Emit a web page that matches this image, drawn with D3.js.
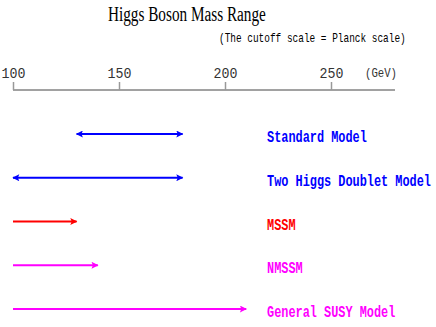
<!DOCTYPE html>
<html>
<head>
<meta charset="utf-8">
<script src="https://cdn.jsdelivr.net/npm/d3@7"></script>
<style>
  body { margin: 0; background: #fff; }
</style>
</head>
<body>
<svg id="chart" width="436" height="327"></svg>
<script>
const models = ["Standard Model", "Two Higgs Doublet Model", "MSSM", "NMSSM", "General SUSY Model"];
const lowMass = [130, 100, 100, 100, 100];
const highMass = [180, 180, 130, 140, 210];
const leftArrow = [true, true, false, false, false];
const colors = ["#0000ff", "#0000ff", "#ff0000", "#ff00ff", "#ff00ff"];
const tickValues = [100, 150, 200, 250];

const svg = d3.select("#chart");

const x = d3.scaleLinear().domain([100, 250]).range([13, 331]);
const y = d3.scalePoint().domain(models).range([134, 309]);

// original fonts are narrow: squeeze text horizontally to a target width
function squeezed(tx, ty, str, width, family, size, color, weight) {
  const g = svg.append("g");
  const t = g.append("text")
    .style("font-family", family)
    .style("font-size", size + "px")
    .style("font-weight", weight || "normal")
    .attr("fill", color || "#000")
    .text(str);
  const sx = width / t.node().getComputedTextLength();
  g.attr("transform", `translate(${tx},${ty}) scale(${sx},1)`);
}

const serif = "'Liberation Serif', serif";
const mono = "'Liberation Mono', monospace";

squeezed(108, 21, "Higgs Boson Mass Range", 158, serif, 20);
squeezed(219, 42, "(The cutoff scale = Planck scale)", 187, mono, 12.5);

// axis
const axis = svg.append("g")
  .attr("transform", "translate(0,90)")
  .call(d3.axisTop(x).tickValues(tickValues).tickSize(8).tickSizeOuter(0).tickPadding(4));
axis.select(".domain").attr("d", `M${x(100)},0H395`).attr("stroke", "#444");
axis.selectAll(".tick line").attr("stroke", "#999").attr("stroke-width", 1.5);
axis.selectAll(".tick text")
  .style("font-family", mono)
  .style("font-size", "14px")
  .attr("fill", "#333")
  .attr("transform", "scale(0.95,1)");

squeezed(365, 77, "(GeV)", 32, mono, 12.5, "#333");

// arrowheads
const defs = svg.append("defs");
colors.forEach((c, i) => {
  defs.append("marker")
    .attr("id", "head" + i)
    .attr("viewBox", "0 0 10 10")
    .attr("refX", 9).attr("refY", 5)
    .attr("markerWidth", 4.5).attr("markerHeight", 3.5)
    .attr("markerUnits", "strokeWidth")
    .attr("orient", "auto-start-reverse")
    .append("path")
    .attr("d", "M0,0L10,5L0,10L2,5Z")
    .attr("fill", c);
});

models.forEach((m, i) => {
  svg.append("line")
    .attr("x1", x(lowMass[i])).attr("x2", x(highMass[i]))
    .attr("y1", y(m)).attr("y2", y(m))
    .attr("stroke", colors[i])
    .attr("stroke-width", 2)
    .attr("marker-end", `url(#head${i})`)
    .attr("marker-start", leftArrow[i] ? `url(#head${i})` : null);

  squeezed(267, y(m) + 8, m, m.length * 7.14, mono, 16, colors[i], "bold");
});
</script>
</body>
</html>
